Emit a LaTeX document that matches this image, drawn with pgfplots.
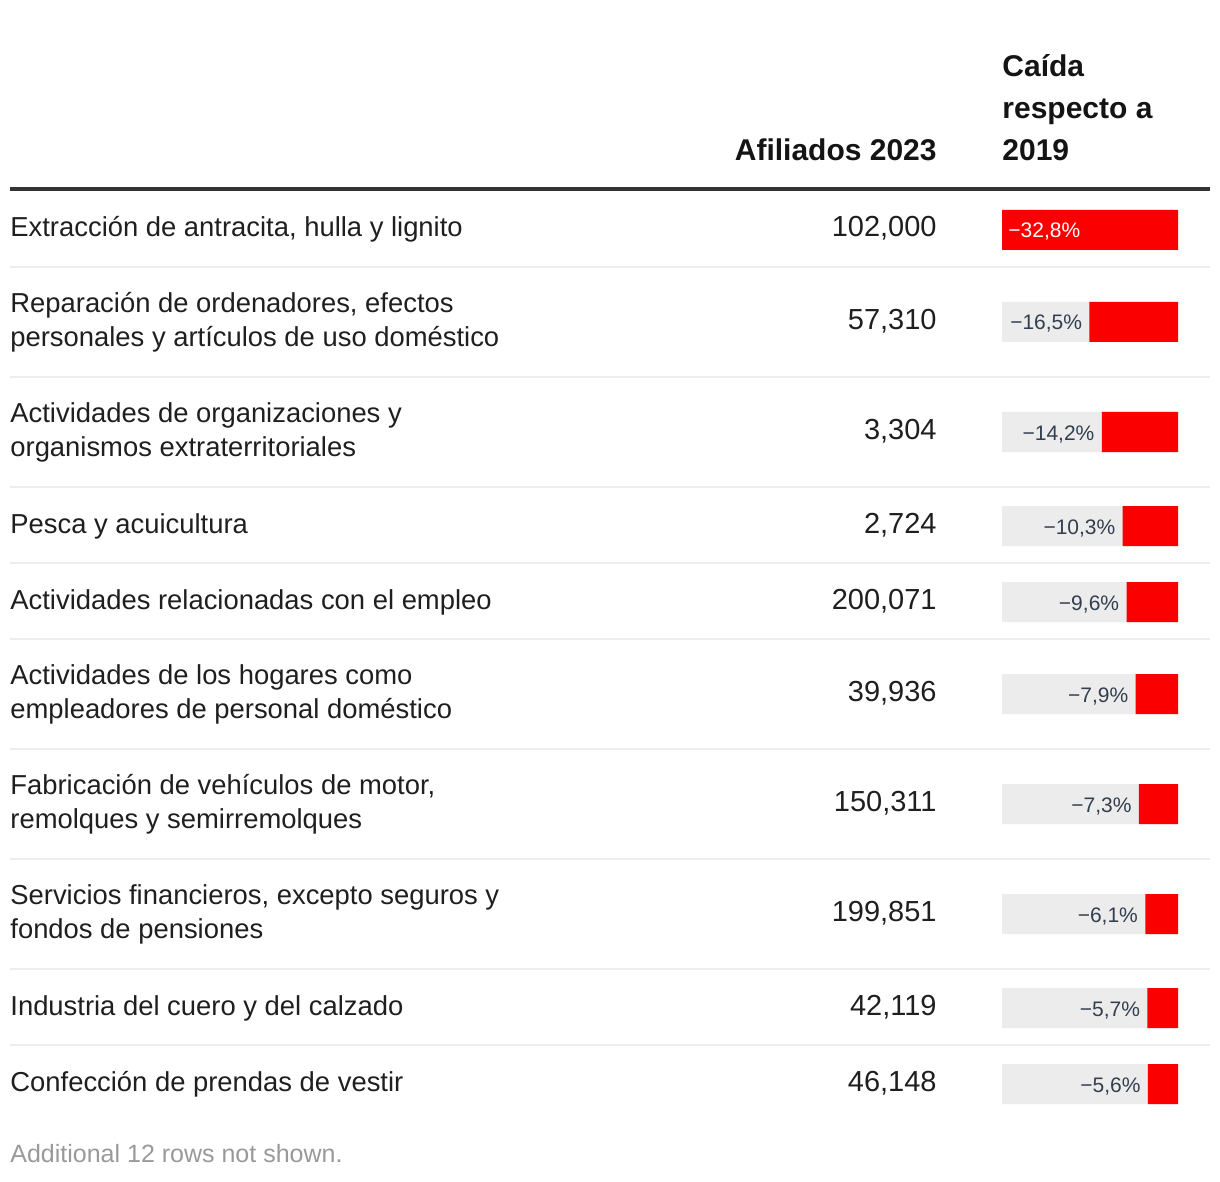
\documentclass[border=0pt]{standalone}
\usepackage{fontspec}
\setmainfont{Liberation Sans}
\usepackage{pgfplots}
\pgfplotsset{compat=1.18}
\definecolor{hdr}{HTML}{333333}
\definecolor{sep}{HTML}{EEEEEE}
\definecolor{bg}{HTML}{ECECEC}
\definecolor{bar}{HTML}{FA0000}
\definecolor{lbl}{HTML}{333F4F}
\definecolor{foot}{HTML}{999999}
\newcommand{\bodyf}{\fontsize{13.7}{17}\selectfont}
\newcommand{\numf}{\fontsize{14.5}{17}\selectfont}
\newcommand{\hdrf}{\fontsize{15}{21}\selectfont\bfseries}
\newcommand{\pctf}{\fontsize{10.5}{12}\selectfont}
\begin{document}
\begin{tikzpicture}
\begin{axis}[at={(0pt,0pt)}, anchor=south west, x=0.5pt, y=0.5pt,
  xmin=0, xmax=1220, ymin=0, ymax=1182, y dir=reverse, hide axis, clip=false]
\fill[white] (axis cs:0,0) rectangle (axis cs:1220,1182);
% header
\tikzset{hd/.style={font=\hdrf, text=black!92, inner sep=0pt}}
\node[hd, anchor=base east] at (axis cs:937,161) {Afiliados 2023};
\node[hd, anchor=base west] at (axis cs:1002,77) {Caída};
\node[hd, anchor=base west] at (axis cs:1002,119) {respecto a};
\node[hd, anchor=base west] at (axis cs:1002,161) {2019};
\draw[line width=2pt, hdr] (axis cs:10,189) -- (axis cs:1210,189);
% separators
\draw[line width=1pt, sep] (axis cs:10,267) -- (axis cs:1210,267);
\draw[line width=1pt, sep] (axis cs:10,377) -- (axis cs:1210,377);
\draw[line width=1pt, sep] (axis cs:10,487) -- (axis cs:1210,487);
\draw[line width=1pt, sep] (axis cs:10,563) -- (axis cs:1210,563);
\draw[line width=1pt, sep] (axis cs:10,639) -- (axis cs:1210,639);
\draw[line width=1pt, sep] (axis cs:10,749) -- (axis cs:1210,749);
\draw[line width=1pt, sep] (axis cs:10,859) -- (axis cs:1210,859);
\draw[line width=1pt, sep] (axis cs:10,969) -- (axis cs:1210,969);
\draw[line width=1pt, sep] (axis cs:10,1045) -- (axis cs:1210,1045);
% row labels
\tikzset{lab/.style={anchor=base west, font=\bodyf, text=black!88, inner sep=0pt},
         num/.style={anchor=base east, font=\numf, text=black!88, inner sep=0pt}}
\node[lab] at (axis cs:10,237) {Extracción de antracita, hulla y lignito};
\node[lab] at (axis cs:10,312) {Reparación de ordenadores, efectos};
\node[lab] at (axis cs:10,346) {personales y artículos de uso doméstico};
\node[lab] at (axis cs:10,422) {Actividades de organizaciones y};
\node[lab] at (axis cs:10,456) {organismos extraterritoriales};
\node[lab] at (axis cs:10,533) {Pesca y acuicultura};
\node[lab] at (axis cs:10,609) {Actividades relacionadas con el empleo};
\node[lab] at (axis cs:10,684) {Actividades de los hogares como};
\node[lab] at (axis cs:10,718) {empleadores de personal doméstico};
\node[lab] at (axis cs:10,794) {Fabricación de vehículos de motor,};
\node[lab] at (axis cs:10,828) {remolques y semirremolques};
\node[lab] at (axis cs:10,904) {Servicios financieros, excepto seguros y};
\node[lab] at (axis cs:10,938) {fondos de pensiones};
\node[lab] at (axis cs:10,1015) {Industria del cuero y del calzado};
\node[lab] at (axis cs:10,1091) {Confección de prendas de vestir};
% numbers
\node[num] at (axis cs:937,237) {102,000};
\node[num] at (axis cs:937,329) {57,310};
\node[num] at (axis cs:937,439) {3,304};
\node[num] at (axis cs:937,533) {2,724};
\node[num] at (axis cs:937,609) {200,071};
\node[num] at (axis cs:937,701) {39,936};
\node[num] at (axis cs:937,811) {150,311};
\node[num] at (axis cs:937,921) {199,851};
\node[num] at (axis cs:937,1015) {42,119};
\node[num] at (axis cs:937,1091) {46,148};
% footer
\node[anchor=base west, font=\fontsize{12.5}{15}\selectfont, text=foot, inner sep=0pt] at (axis cs:10,1162) {Additional 12 rows not shown.};
\end{axis}
\begin{axis}[at={(501pt,0pt)}, anchor=south west, x=2.682927pt, y=0.5pt,
  xmin=0, xmax=32.8, x dir=reverse, ymin=0, ymax=1182, y dir=reverse,
  hide axis, clip=false]
\addplot[xbar, bar shift=0pt, bar width=40, fill=bg, draw=none] coordinates {
 (32.8,230) (32.8,322) (32.8,432) (32.8,526) (32.8,602) (32.8,694) (32.8,804) (32.8,914) (32.8,1008) (32.8,1084)};
\addplot[xbar, bar shift=0pt, bar width=40, fill=bar, draw=none] coordinates {
 (32.8,230) (16.5,322) (14.2,432) (10.3,526) (9.6,602) (7.9,694) (7.3,804) (6.1,914) (5.7,1008) (5.6,1084)};
\tikzset{pl/.style={anchor=base east, font=\pctf, text=lbl, inner sep=0pt, xshift=-3.5pt}}
\node[anchor=base west, font=\pctf, text=white, inner sep=0pt, xshift=3pt] at (axis cs:32.8,238) {−32,8\%};
\node[pl] at (axis cs:16.5,330) {−16,5\%};
\node[pl] at (axis cs:14.2,440) {−14,2\%};
\node[pl] at (axis cs:10.3,534) {−10,3\%};
\node[pl] at (axis cs:9.6,610) {−9,6\%};
\node[pl] at (axis cs:7.9,702) {−7,9\%};
\node[pl] at (axis cs:7.3,812) {−7,3\%};
\node[pl] at (axis cs:6.1,922) {−6,1\%};
\node[pl] at (axis cs:5.7,1016) {−5,7\%};
\node[pl] at (axis cs:5.6,1092) {−5,6\%};
\end{axis}
\end{tikzpicture}
\end{document}
